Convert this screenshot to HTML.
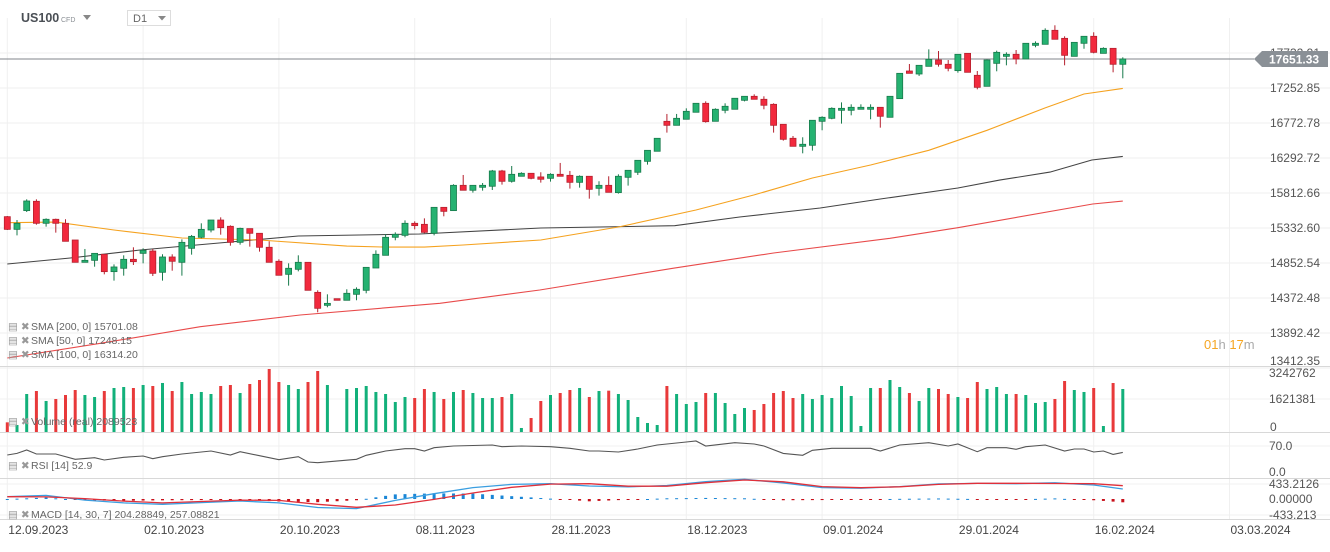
<!DOCTYPE html>
<html><head><meta charset="utf-8">
<style>
body{margin:0;background:#fff;font-family:"Liberation Sans",sans-serif;}
svg text{font-family:"Liberation Sans",sans-serif;}
</style></head>
<body>
<svg id="c" width="1330" height="547" viewBox="0 0 1330 547" xmlns="http://www.w3.org/2000/svg">
  <rect x="0" y="0" width="1330" height="547" fill="#fff"/>
  <g id="grid"></g>
  <g>
    <text x="21" y="22" font-size="12.5" font-weight="bold" fill="#4a4f55">US100</text>
    <text x="61" y="22" font-size="7" fill="#8a8f94">CFD</text>
    <path d="M83 15 L91 15 L87 20 Z" fill="#888"/>
    <rect x="127.5" y="10.5" width="43" height="15" fill="#fff" stroke="#ddd"/>
    <text x="133" y="22" font-size="11" fill="#666">D1</text>
    <path d="M158 16 L166 16 L162 20.5 Z" fill="#888"/>
  </g>
  <g id="main"></g>
  <g id="vol"></g>
  <g id="rsi"></g>
  <g id="macd"></g>
  <g id="axes"></g>
  <g font-size="10.5" fill="#666">
    <g><text x="8" y="330" fill="#999">▤ ✖</text><text x="31" y="330">SMA [200, 0] 15701.08</text></g>
    <g><text x="8" y="344" fill="#999">▤ ✖</text><text x="31" y="344">SMA [50, 0] 17248.15</text></g>
    <g><text x="8" y="358" fill="#999">▤ ✖</text><text x="31" y="358">SMA [100, 0] 16314.20</text></g>
    <g><text x="8" y="425" fill="#999">▤ ✖</text><text x="31" y="425">Volume (real) 2089523</text></g>
    <g><text x="8" y="469" fill="#999">▤ ✖</text><text x="31" y="469">RSI [14] 52.9</text></g>
    <g><text x="8" y="518" fill="#999">▤ ✖</text><text x="31" y="518">MACD [14, 30, 7] 204.28849, 257.08821</text></g>
  </g>
  <text x="1204" y="349" font-size="13"><tspan fill="#f5a623">01</tspan><tspan fill="#aaa">h </tspan><tspan fill="#f5a623">17</tspan><tspan fill="#aaa">m</tspan></text>
</svg>
<script>
const opens=[15488,15314,15571,15699,15397,15452,15397,15168,14862,14889,14972,14734,14780,14903,14985,15017,14725,14935,14862,15054,15205,15305,15442,15356,15136,15324,15260,15068,14876,14697,14766,14862,14450,14272,14363,14341,14423,14478,14784,14958,15205,15232,15397,15383,15260,15616,15571,15918,15850,15891,15905,16115,15973,16042,16083,16033,16014,16069,16055,15959,16042,15877,15918,15818,16028,16097,16247,16385,16796,16741,16824,16920,17043,16796,16947,16961,17084,17139,17098,17029,16755,16563,16453,16467,16796,16837,16947,16947,16961,16961,16988,16851,17107,17486,17445,17550,17637,17578,17491,17728,17427,17276,17591,17687,17715,17651,17838,17852,18044,17934,17687,17866,17962,17728,17797,17578];
const highs=[15497,15442,15726,15726,15465,15461,15452,15168,15045,14985,14972,14834,14958,15068,15054,15045,14972,14972,15177,15237,15397,15442,15479,15369,15337,15324,15260,15150,14903,14848,14958,14862,14478,14423,14363,14492,14519,14793,15026,15246,15273,15438,15424,15465,15616,15616,15932,16060,15918,15950,16129,16129,16183,16097,16083,16097,16083,16225,16115,16055,16042,15973,16042,16069,16124,16261,16398,16563,16897,16897,16974,17043,17070,16974,17043,17112,17139,17166,17139,17043,16755,16595,16577,16810,16865,16988,17056,17029,17029,17029,16988,17139,17454,17582,17564,17783,17760,17637,17715,17728,17486,17646,17765,17742,17774,17866,17893,18071,18113,17962,17879,17962,18017,17811,17797,17674];
const lows=[15305,15232,15552,15378,15351,15269,15150,14862,14862,14802,14697,14610,14679,14825,14848,14674,14610,14747,14679,14967,15191,15273,15241,15090,15104,15077,15008,14862,14684,14542,14738,14478,14176,14245,14341,14341,14341,14437,14784,14958,15164,15205,15314,15260,15232,15493,15571,15850,15818,15845,15854,15927,15955,16042,16001,15955,15969,16042,15873,15886,15735,15777,15822,15804,15914,16060,16202,16385,16641,16741,16824,16920,16778,16796,16906,16961,17070,17098,16961,16641,16531,16453,16357,16394,16673,16824,16764,16878,16961,16824,16709,16851,17107,17454,17418,17550,17546,17482,17463,17468,17235,17276,17482,17564,17578,17651,17811,17852,17921,17564,17687,17792,17728,17728,17468,17386];
const closes=[15314,15397,15703,15397,15452,15397,15150,14862,14889,14985,14734,14798,14903,14871,15026,14711,14935,14876,15136,15218,15314,15442,15337,15136,15328,15260,15068,14862,14684,14780,14862,14478,14231,14299,14341,14437,14492,14793,14972,15205,15246,15397,15365,15273,15616,15561,15918,15850,15918,15918,16115,15973,16069,16083,16014,16001,16069,16042,15959,16042,15863,15918,15822,16042,16124,16261,16398,16563,16741,16837,16933,17043,16791,16961,17002,17112,17139,17098,17016,16741,16549,16453,16481,16810,16851,16974,16974,16988,16988,16988,16865,17139,17454,17454,17564,17646,17578,17523,17715,17468,17262,17637,17742,17715,17651,17866,17866,18044,17921,17701,17879,17962,17742,17797,17578,17651];
const volumes=[482,349,1896,2045,1547,1646,1846,2095,1846,1746,2045,2195,2245,2195,2345,2295,2445,2045,2494,1896,1996,1896,2295,2345,1946,2395,2594,3143,2494,2345,2145,2494,3043,2345,0,2145,2195,2295,1996,1896,1497,1746,1696,2145,1996,1646,1996,2095,1946,1696,1696,1746,1896,200,698,1547,1846,1946,2095,2195,1746,2045,2062,1896,1596,748,449,349,2295,1896,1397,1497,1946,1946,1447,898,1197,1098,1397,1946,2045,1696,1896,1646,1846,1696,2295,1796,299,2195,2195,2594,2245,1946,1547,2195,2145,1896,1746,1696,2494,2145,2245,1896,1896,1846,1447,1497,1646,2544,2095,1996,2195,299,2444,2145];
const sma50Idx=[0,5,11,18,26,35,39,43,47,55,63,71,77,83,89,95,101,107,111,115];
const sma50Val=[15405,15413,15305,15195,15168,15085,15070,15070,15100,15168,15347,15580,15786,16019,16197,16398,16673,16980,17170,17248];
const sma100Idx=[0,6.5,13.7,23,30,42.5,55,68.8,75.5,83.8,90,98,102.3,107.5,111.8,115];
const sma100Val=[14839,14921,15031,15140,15223,15250,15333,15364,15484,15607,15730,15881,15990,16100,16265,16314];
const sma200Idx=[0,9.6,19.9,30.2,44.6,54.9,68.6,79,91,98,111.9,115];
const sma200Val=[13550,13751,13979,14139,14300,14482,14780,14990,15191,15337,15662,15701];
const rsiIdx=[0,1,2,3,5,7,9,10,12,14,15,16,18,21,23,24,26,28,30,31,32,36,37,39,41,42,43,44,46,50,51,53,56,58,60,61,63,65,67,70,71,72,75,77,78,80,82,83,85,89,90,92,95,97,98,100,101,103,104,105,107,109,110,111,112,113,114,115];
const rsiVal=[45.8,50.2,59.2,48.5,48.5,34.1,38.6,32.3,39.5,43.1,35.9,41.3,48.5,56.5,45.8,54.7,44.0,33.2,41.3,26.9,25.1,34.1,44.9,56.5,62.8,62.8,56.5,65.5,70.0,72.7,68.2,70.0,68.2,63.7,56.5,56.5,53.8,61.9,72.7,80.8,83.5,70.0,78.9,75.4,70.0,50.2,44.9,58.3,63.7,63.7,56.5,72.7,78.9,70.0,75.4,54.7,65.5,65.5,61.0,68.2,72.7,56.5,61.9,61.9,53.8,56.5,47.5,52.9];
const macdIdx=[0,4,8,12,16,20,24,28,32,36,40,44,48,52,56,60,64,68,72,76,80,84,88,92,96,100,104,108,112,115];
const macdVal=[65,100,-30,-110,-148,-100,-55,-110,-240,-270,-40,150,322,410,430,365,340,380,490,555,450,320,305,350,425,440,430,455,395,282];
const signalVal=[65,60,10,-60,-110,-70,-30,-40,-150,-235,-170,-10,170,330,420,430,360,360,460,535,485,350,318,345,410,441,441,438,430,375];
const priceTicks=[17732.91,17252.85,16772.78,16292.72,15812.66,15332.60,14852.54,14372.48,13892.42,13412.35];
const dateLabels=["12.09.2023","02.10.2023","20.10.2023","08.11.2023","28.11.2023","18.12.2023","09.01.2024","29.01.2024","16.02.2024","03.03.2024"];
const dateIdx=[0,14,28,42,56,70,84,98,112,126];
const lastPrice=17651.33;

const NS="http://www.w3.org/2000/svg";
function mk(parent,tag,attrs){const e=document.createElementNS(NS,tag);for(const k in attrs)e.setAttribute(k,attrs[k]);parent.appendChild(e);return e;}
const X=i=>7.3+9.7*i;
const PY=p=>88-(p-17252.85)/13.716;
const VY=v=>432-v*1000/3242762*65;
const RY=v=>472-v*26/70;
const MY=v=>499-v*0.0355;
const grid=document.getElementById('grid'),main=document.getElementById('main'),vol=document.getElementById('vol'),rsi=document.getElementById('rsi'),macd=document.getElementById('macd'),axes=document.getElementById('axes');

dateIdx.forEach(i=>{const l=mk(grid,'line',{x1:X(i),x2:X(i),y1:18,y2:520,stroke:'#f0f0f0'});

});
priceTicks.forEach(p=>{const l=mk(grid,'line',{x1:0,x2:1330,y1:PY(p),y2:PY(p),stroke:'#efefef'});

});
[399,446,484,515].forEach(y=>{const l=mk(grid,'line',{x1:0,x2:1330,y1:y,y2:y,stroke:'#f0f0f0'});

});
[366,432,478,519].forEach(y=>{const l=mk(grid,'line',{x1:0,x2:1330,y1:y+0.5,y2:y+0.5,stroke:'#d8d8d8'});

});

function poly(parent,idx,vals,fy,color,w,name){const pts=idx.map((i,k)=>X(i).toFixed(1)+','+fy(vals[k]).toFixed(1)).join(' ');
const e=mk(parent,'polyline',{points:pts,fill:'none',stroke:color,'stroke-width':w});

return e;}
poly(main,sma200Idx,sma200Val,PY,'#e84a4a',1.1,'sma200-line');
poly(main,sma100Idx,sma100Val,PY,'#444',1.1,'sma100-line');
poly(main,sma50Idx,sma50Val,PY,'#f5a21f',1.1,'sma50-line');

const cl=mk(main,'line',{x1:0,x2:1254,y1:PY(lastPrice),y2:PY(lastPrice),stroke:'#80868b','stroke-width':1});



opens.forEach((o,i)=>{const c=closes[i],up=c>=o;const x=X(i);
const g=mk(main,'g',{});


const st=up?'#177a4b':'#b5202e',fl=up?'#25b271':'#f2293d';
mk(g,'line',{x1:x,x2:x,y1:PY(highs[i]),y2:PY(lows[i]),stroke:st,'stroke-width':1});
const t=PY(Math.max(o,c)),b=PY(Math.min(o,c));
mk(g,'rect',{x:x-3,y:t,width:6,height:Math.max(1,b-t),fill:fl,stroke:st,'stroke-width':0.8});});

volumes.forEach((v,i)=>{const up=closes[i]>=opens[i];
const r=mk(vol,'rect',{x:X(i)-1.5,y:VY(v),width:3,height:432-VY(v),fill:up?'#12b07a':'#e8393a'});

});

poly(rsi,rsiIdx,rsiVal,RY,'#555',1.1,'rsi-line');

function interp(idx,vals,i){for(let k=0;k<idx.length-1;k++){if(i>=idx[k]&&i<=idx[k+1]){const t=(i-idx[k])/(idx[k+1]-idx[k]);return vals[k]+t*(vals[k+1]-vals[k]);}}return vals[vals.length-1];}
opens.forEach((o,i)=>{const h=interp(macdIdx,macdVal,i)-interp(macdIdx,signalVal,i);
const y0=MY(0),y1=MY(h);
const r=mk(macd,'rect',{x:X(i)-1.5,y:Math.min(y0,y1),width:3,height:Math.max(1,Math.abs(y1-y0)),fill:h>=0?'#1a86d6':'#c8101a'});

});
poly(macd,macdIdx,macdVal,MY,'#3a9ee0',1.3,'macd-line');
poly(macd,macdIdx,signalVal,MY,'#e0303a',1.3,'macd-signal-line');

priceTicks.forEach((p,k)=>{const off=(k===priceTicks.length-1)?-7:0;
const t=mk(axes,'text',{x:1320,y:PY(p)+4+off,'font-size':12,fill:'#555','text-anchor':'end'});t.textContent=p.toFixed(2);

});
[["3242762",377],["1621381",403],["0",431],["70.0",450],["0.0",476],["433.2126",488],["0.00000",503],["-433.213",519]].forEach(a=>{const t=mk(axes,'text',{x:a[0]==="0"?1270:1269,y:a[1],'font-size':12,fill:'#555'});t.textContent=a[0];

});
const py=PY(lastPrice);
const tag=mk(axes,'g',{});


mk(tag,'path',{d:`M1254 ${py} L1262 ${py-8} L1328 ${py-8} L1328 ${py+8} L1262 ${py+8} Z`,fill:'#8a9096'});
const tt=mk(tag,'text',{x:1269,y:py+4.5,'font-size':12,'font-weight':'bold',fill:'#fff'});tt.textContent=lastPrice.toFixed(2);

dateLabels.forEach((d,k)=>{const t=mk(axes,'text',{x:X(dateIdx[k])+1,y:534,'font-size':12,fill:'#444'});t.textContent=d;

});
</script>
</body></html>
